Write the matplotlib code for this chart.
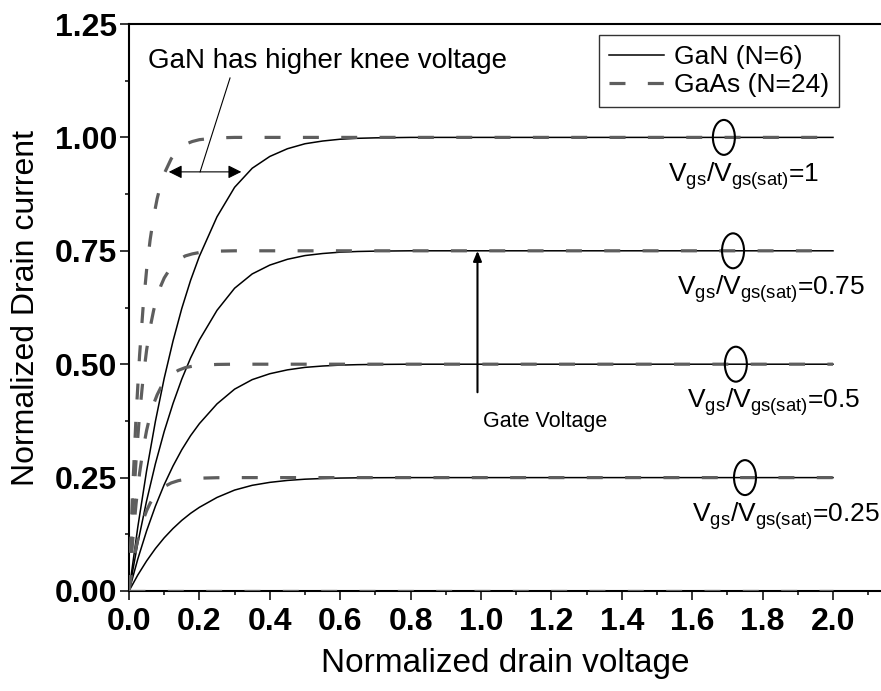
import numpy as np
import matplotlib
matplotlib.use('Agg')
import matplotlib.pyplot as plt
from matplotlib.patches import Ellipse, FancyArrowPatch

plt.rcParams['font.family'] = ['Liberation Sans', 'DejaVu Sans']
plt.rcParams['mathtext.fontset'] = 'custom'
plt.rcParams['mathtext.rm'] = 'Liberation Sans'
plt.rcParams['mathtext.it'] = 'Liberation Sans:italic'
plt.rcParams['mathtext.bf'] = 'Liberation Sans:bold'

# gate bias levels (Vgs/Vgs(sat)) -> saturation current
levels = [0.0, 0.25, 0.5, 0.75, 1.0]
level_labels = ['1', '0.75', '0.5', '0.25']

# normalized output curve, GaN (N=6)
vd_gan = [0.0, 0.025, 0.05, 0.075, 0.1, 0.125, 0.15, 0.175, 0.2, 0.25, 0.3,
          0.35, 0.4, 0.45, 0.5, 0.55, 0.6, 0.65, 0.7, 0.8, 1.0, 2.0]
id_gan = [0.0, 0.141, 0.265, 0.374, 0.469, 0.551, 0.623, 0.685, 0.738, 0.825,
          0.89, 0.932, 0.958, 0.975, 0.986, 0.992, 0.996, 0.998, 0.999, 1.0,
          1.0, 1.0]

# normalized output curve, GaAs (N=24)
vd_gaas = [0.0, 0.01, 0.02, 0.03, 0.04, 0.05, 0.06, 0.07, 0.08, 0.09, 0.1,
           0.12, 0.14, 0.16, 0.18, 0.2, 0.25, 0.3, 2.0]
id_gaas = [0.0, 0.214, 0.384, 0.519, 0.625, 0.708, 0.774, 0.825, 0.865, 0.896,
           0.92, 0.953, 0.973, 0.985, 0.991, 0.995, 0.999, 1.0, 1.0]

W, H = 881, 691
fig = plt.figure(figsize=(W / 100, H / 100), dpi=100)
ax = fig.add_axes([129 / W, 1 - 591 / H, (W - 129) / W, (591 - 24) / H])

vd_gan = np.array(vd_gan)
id_gan = np.array(id_gan)
vd_gaas = np.array(vd_gaas)
id_gaas = np.array(id_gaas)

for i, lv in enumerate(levels):
    ax.plot(vd_gan, lv * id_gan, color='k', lw=1.1,
            label='GaN (N=6)' if i == 0 else None, zorder=3)
for i, lv in enumerate(levels):
    ax.plot(vd_gaas, lv * id_gaas, color='#5e5e5e', lw=2.3, dashes=(5, 7),
            dash_capstyle='butt', label='GaAs (N=24)' if i == 0 else None,
            zorder=4)

ax.set_xlim(0, (W - 129) / 352)
ax.set_ylim(0, 1.25)
ax.set_xticks(np.arange(0, 2.01, 0.2))
ax.set_xticks(np.arange(0.1, 2.15, 0.2), minor=True)
ax.set_yticks(np.arange(0, 1.26, 0.25))
ax.set_yticks(np.arange(0.125, 1.25, 0.25), minor=True)
ax.xaxis.set_major_formatter(plt.FormatStrFormatter('%.1f'))
ax.yaxis.set_major_formatter(plt.FormatStrFormatter('%.2f'))
ax.tick_params(which='major', direction='out', length=6.5, width=1.1,
               labelsize=23, pad=2)
ax.tick_params(which='minor', direction='out', length=3, width=1.1)
ax.tick_params(axis='x', which='major', pad=5)
for lab in ax.get_xticklabels() + ax.get_yticklabels():
    lab.set_fontweight('bold')

for s in ['left', 'bottom', 'top']:
    ax.spines[s].set_linewidth(1.5)
ax.spines['right'].set_visible(False)

ax.set_xlabel('Normalized drain voltage', fontsize=24, labelpad=8)
ax.set_ylabel('Normalized Drain current', fontsize=23, labelpad=10)

leg = ax.legend(loc='upper right', bbox_to_anchor=(0.944, 0.981),
                fontsize=19, frameon=True, fancybox=False, borderpad=0.38,
                labelspacing=0.15, handlelength=2.1, handletextpad=0.35,
                borderaxespad=0)
leg.get_frame().set_edgecolor('k')
leg.get_frame().set_linewidth(1.0)

# bias markers and labels on the saturated region
ell_x = [1.69, 1.716, 1.724, 1.75]
lab_x = [1.531, 1.557, 1.585, 1.599]
for k, lv in enumerate([1.0, 0.75, 0.5, 0.25]):
    ax.add_patch(Ellipse((ell_x[k], lv), 0.0625, 0.077, fill=False,
                         ec='k', lw=1.5, zorder=5))
    ax.text(lab_x[k], lv - 0.097,
            r'$\mathregular{V_{gs}/V_{gs(sat)}}$=' + level_labels[k],
            fontsize=19, va='baseline', ha='left')

# knee voltage comparison
ax.add_patch(FancyArrowPatch((0.105, 0.924), (0.327, 0.924),
                             arrowstyle='<|-|>,head_length=8,head_width=4',
                             mutation_scale=1, color='k', lw=0.8, zorder=6))
ax.plot([0.202, 0.287], [0.924, 1.131], color='k', lw=0.8)
ax.text(0.054, 1.153, 'GaN has higher knee voltage', fontsize=20,
        va='baseline', ha='left')

# gate voltage direction
ax.annotate('', xy=(0.99, 0.756), xytext=(0.99, 0.432),
            arrowprops=dict(arrowstyle='-|>,head_length=0.6,head_width=0.25',
                            color='k', lw=1.5))
ax.text(1.36, 0.362, 'Gate Voltage', fontsize=15.5, va='baseline', ha='right')

fig.savefig('out.png', dpi=100)
